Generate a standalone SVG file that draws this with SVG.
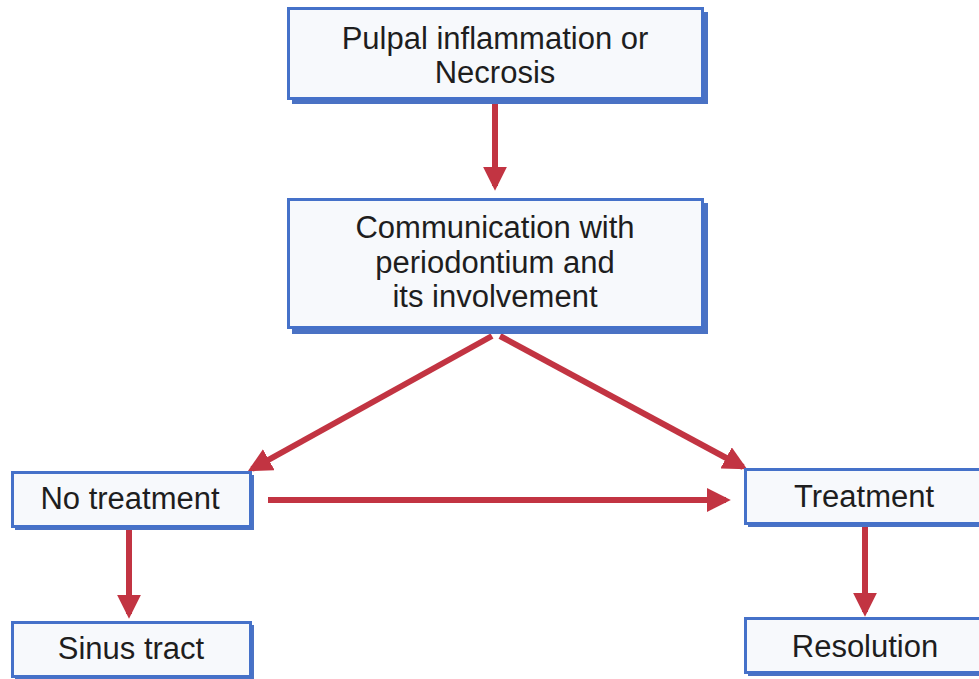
<svg xmlns="http://www.w3.org/2000/svg" width="979" height="679" viewBox="0 0 979 679">
<defs>
<style>
.shadow{fill:#4a72c4;}
.box{fill:#f7f9fc;stroke:#4571c9;stroke-width:3;}
.t{font-family:"Liberation Sans",Arial,sans-serif;font-size:31px;fill:#1e1e1e;text-anchor:middle;}
.c{stroke:#c23442;stroke-width:6;fill:none;marker-end:url(#ah);}
</style>
<marker id="ah" viewBox="0 0 10 10" refX="8" refY="5" markerWidth="4" markerHeight="4" orient="auto" markerUnits="strokeWidth">
<path d="M0,0 L10,5 L0,10 z" fill="#c23442"/>
</marker>
</defs>
<rect width="979" height="679" fill="#ffffff"/>
<g id="connectors">
<line class="c" x1="495" y1="103" x2="495" y2="186"/>
<line class="c" x1="492" y1="336" x2="252" y2="469"/>
<line class="c" x1="500" y1="336" x2="743" y2="467"/>
<line class="c" x1="268" y1="500" x2="726" y2="500"/>
<line class="c" x1="129" y1="530" x2="129" y2="614"/>
<line class="c" x1="865" y1="527" x2="865" y2="612"/>
</g>
<g id="n1">
<rect class="shadow" x="292" y="12" width="416" height="92"/>
<rect class="box" x="288.5" y="8.5" width="414" height="90"/>
<text class="t" x="495" y="49">Pulpal inflammation or</text>
<text class="t" x="495" y="83">Necrosis</text>
</g>
<g id="n2">
<rect class="shadow" x="292" y="203" width="416" height="131"/>
<rect class="box" x="288.5" y="199.5" width="414" height="128"/>
<text class="t" x="495" y="238">Communication with</text>
<text class="t" x="495" y="273">periodontium and</text>
<text class="t" x="495" y="307">its involvement</text>
</g>
<g id="n3">
<rect class="shadow" x="15" y="475" width="239" height="55"/>
<rect class="box" x="12.5" y="472.5" width="238" height="54"/>
<text class="t" x="130" y="509">No treatment</text>
</g>
<g id="n4">
<rect class="shadow" x="748" y="472" width="240" height="55"/>
<rect class="box" x="745.5" y="469.5" width="240" height="54"/>
<text class="t" x="864" y="507">Treatment</text>
</g>
<g id="n5">
<rect class="shadow" x="15" y="625" width="239" height="55"/>
<rect class="box" x="12.5" y="622.5" width="238" height="54"/>
<text class="t" x="131" y="659">Sinus tract</text>
</g>
<g id="n6">
<rect class="shadow" x="748" y="621" width="240" height="55"/>
<rect class="box" x="745.5" y="618.5" width="240" height="54"/>
<text class="t" x="865" y="657">Resolution</text>
</g>
</svg>
